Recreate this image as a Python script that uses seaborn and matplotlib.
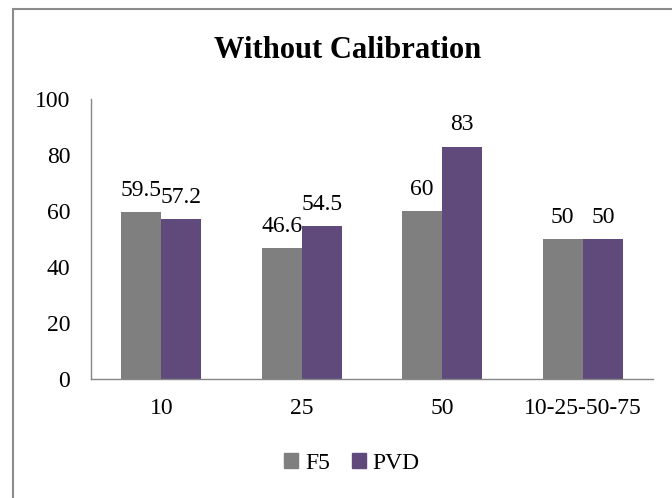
import matplotlib
matplotlib.use("Agg")
import matplotlib.pyplot as plt
from matplotlib.lines import Line2D
from matplotlib.ticker import FixedLocator
import seaborn as sns
import pandas as pd

categories = ["10", "25", "50", "10-25-50-75"]
f5_values = [59.5, 46.6, 60, 50]
pvd_values = [57.2, 54.5, 83, 50]
series_names = ["F5", "PVD"]
y_ticks = [0, 20, 40, 60, 80, 100]

df = pd.DataFrame({
    "category": categories * 2,
    "value": f5_values + pvd_values,
    "series": [series_names[0]] * len(categories) + [series_names[1]] * len(categories),
})

sns.set_theme(style="white")
plt.rcParams["font.family"] = ["Liberation Serif", "DejaVu Serif"]
plt.rcParams["text.color"] = "black"
plt.rcParams["xtick.labelcolor"] = "black"
plt.rcParams["ytick.labelcolor"] = "black"

W, H = 672, 498
fig = plt.figure(figsize=(W / 100, H / 100), dpi=100)
ax = fig.add_axes([91 / W, 1 - 378.5 / H, (653 - 91) / W, (378.5 - 99) / H])

palette = {"F5": "#7f7f7f", "PVD": "#604a7b"}
sns.barplot(data=df, x="category", y="value", hue="series", order=categories,
            hue_order=series_names, palette=palette, width=0.572, gap=0,
            saturation=1, edgecolor="none", linewidth=0, legend=False, ax=ax)

fs = 17
for cont in ax.containers:
    ax.bar_label(cont, labels=[f"{v:g}" for v in cont.datavalues],
                 padding=8, fontsize=fs, color="black")

ax.set_xlim(-0.5, len(categories) - 0.5)
ax.set_ylim(0, 100)
ax.set_yticks(y_ticks)
ax.set_yticklabels([str(t) for t in y_ticks], fontsize=fs, color="black")
ax.set_xticks(range(len(categories)))
ax.set_xticklabels(categories, fontsize=fs, color="black")
ax.xaxis.set_minor_locator(FixedLocator([i - 0.5 for i in range(len(categories) + 1)]))
ax.tick_params(axis="x", which="major", length=0, pad=14)
ax.tick_params(axis="x", which="minor", length=6, width=1, color="#868686", direction="out")
ax.tick_params(axis="y", length=5, width=1, color="#868686", direction="out", pad=10)
ax.set_xlabel("")
ax.set_ylabel("")

for side in ["top", "right"]:
    ax.spines[side].set_visible(False)
for side in ["left", "bottom"]:
    ax.spines[side].set_color("#868686")
    ax.spines[side].set_linewidth(1)

handles = [plt.Rectangle((0, 0), 1, 1, color=palette[s]) for s in series_names]
leg = fig.legend(handles, series_names, loc="center", bbox_to_anchor=(352 / W, 1 - 463 / H),
                 ncol=2, frameon=False, fontsize=fs, handlelength=0.6, handleheight=0.6,
                 handletextpad=0.3, columnspacing=0.9)
for t in leg.get_texts():
    t.set_color("black")

fig.text(348 / W, 1 - 58 / H, "Without Calibration", ha="center", va="baseline",
         fontsize=22, fontweight="bold", color="black")

# chart area border
bx, by = 13 / W, 1 - 9.5 / H
fig.add_artist(Line2D([bx, bx], [0, by], transform=fig.transFigure, color="#8c8c8c", lw=1.5))
fig.add_artist(Line2D([bx, 1], [by, by], transform=fig.transFigure, color="#8c8c8c", lw=1.5))

fig.savefig("out.png", dpi=100)
